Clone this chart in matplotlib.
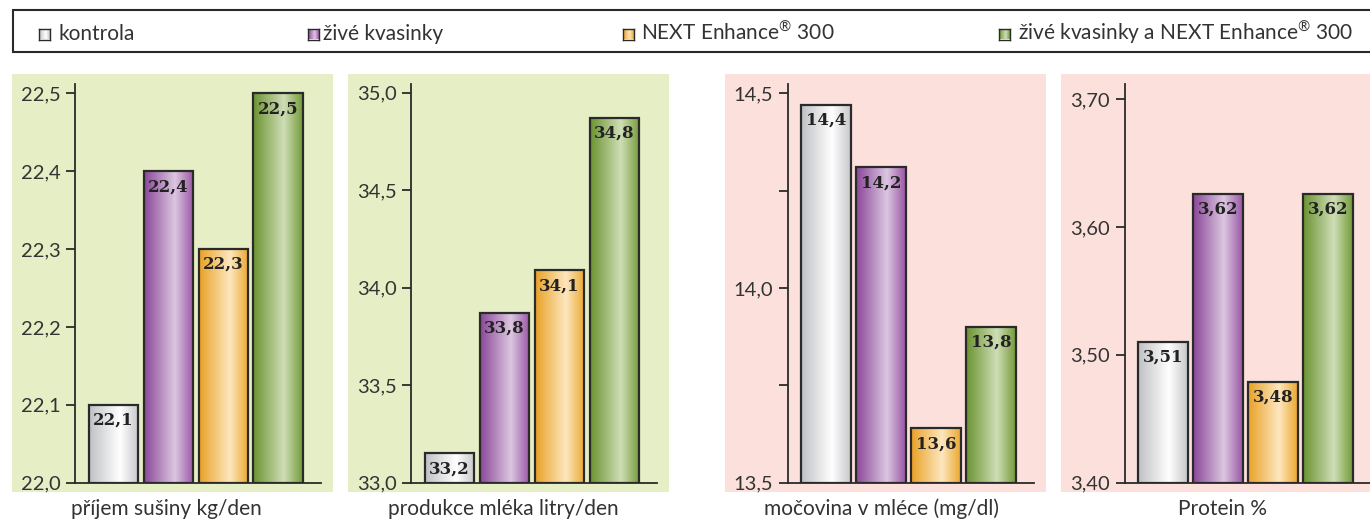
import numpy as np
import matplotlib
matplotlib.use("Agg")
import matplotlib.pyplot as plt
from matplotlib.colors import LinearSegmentedColormap
from matplotlib.patches import Rectangle

# ---------------- data ----------------
series = ["kontrola", "živé kvasinky", "NEXT Enhance$^{\\mathrm{®}}$ 300",
          "živé kvasinky a NEXT Enhance$^{\\mathrm{®}}$ 300"]

titles = ["příjem sušiny kg/den", "produkce mléka litry/den",
          "močovina v mléce (mg/dl)", "Protein %"]

susina = [22.1, 22.4, 22.3, 22.5]
mleko = [33.15, 33.87, 34.09, 34.87]
mocovina = [14.47, 14.31, 13.64, 13.90]
protein = [3.51, 3.626, 3.479, 3.626]

susina_lbl = ["22,1", "22,4", "22,3", "22,5"]
mleko_lbl = ["33,2", "33,8", "34,1", "34,8"]
mocovina_lbl = ["14,4", "14,2", "13,6", "13,8"]
protein_lbl = ["3,51", "3,62", "3,48", "3,62"]

susina_ticks = [22.0, 22.1, 22.2, 22.3, 22.4, 22.5]
mleko_ticks = [33.0, 33.5, 34.0, 34.5, 35.0]
mocovina_ticks = [13.5, 13.75, 14.0, 14.25, 14.5]
protein_ticks = [3.40, 3.50, 3.60, 3.70]

susina_tlbl = ["22,0", "22,1", "22,2", "22,3", "22,4", "22,5"]
mleko_tlbl = ["33,0", "33,5", "34,0", "34,5", "35,0"]
mocovina_tlbl = ["13,5", "", "14,0", "", "14,5"]
protein_tlbl = ["3,40", "3,50", "3,60", "3,70"]

# ---------------- style ----------------
plt.rcParams["font.family"] = ["Lato", "DejaVu Sans"]
plt.rcParams["mathtext.fontset"] = "custom"
plt.rcParams["mathtext.rm"] = "Lato"

W, H = 1370, 521
fig = plt.figure(figsize=(W / 100, H / 100), dpi=100)

grad_stops = [
    [(0, "#bfc0c4"), (0.62, "#ffffff"), (1, "#c6c7ca")],
    [(0, "#8a4698"), (0.62, "#dcc7e1"), (1, "#9855a5")],
    [(0, "#e9a126"), (0.62, "#fde7bf"), (1, "#eba72e")],
    [(0, "#6a9330"), (0.62, "#cfdeb6"), (1, "#739a38")],
]
cmaps = [LinearSegmentedColormap.from_list("g%d" % i, s) for i, s in enumerate(grad_stops)]
grad = np.linspace(0, 1, 256).reshape(1, -1)

green_bg = "#e6eec6"
pink_bg = "#fce0dc"
dark = "#2a2a2a"
txt = "#333333"

def fx(px):
    return px / W

def fy(py):
    return 1 - py / H

# panel backgrounds
bgs = [(12, 333, green_bg), (348, 669, green_bg), (725, 1046, pink_bg), (1061, 1372, pink_bg)]
for x0, x1, c in bgs:
    fig.patches.append(Rectangle((fx(x0), fy(491.7)), fx(x1 - x0), (491.7 - 74) / H,
                                 transform=fig.transFigure, facecolor=c, edgecolor="none", zorder=-5))

# legend frame
fig.patches.append(Rectangle((fx(12.7), fy(52)), fx(1380 - 12.7), (52 - 10) / H,
                             transform=fig.transFigure, facecolor="white", edgecolor=dark,
                             linewidth=1.5, zorder=-5))

leg_marker_x = [39.3, 308.3, 623.3, 999.3]
leg_text_x = [59, 323, 641, 1018]
for i in range(4):
    lax = fig.add_axes([fx(leg_marker_x[i]), fy(39.5), fx(11), 11 / H])
    lax.imshow(grad, cmap=cmaps[i], aspect="auto", extent=[0, 1, 0, 1])
    lax.set_xticks([]); lax.set_yticks([])
    for s in lax.spines.values():
        s.set_linewidth(1.0); s.set_color(dark)
    fig.text(fx(leg_text_x[i]), fy(39.5), series[i], fontsize=15, color=txt,
             ha="left", va="baseline")

values = [susina, mleko, mocovina, protein]
labels = [susina_lbl, mleko_lbl, mocovina_lbl, protein_lbl]
ticks = [susina_ticks, mleko_ticks, mocovina_ticks, protein_ticks]
tlbls = [susina_tlbl, mleko_tlbl, mocovina_tlbl, protein_tlbl]
ylims = [(22.0, 22.512), (33.0, 35.045), (13.5, 14.524), (3.40, 3.7117)]
ax_left = [75, 411.3, 787.7, 1124.7]
title_x = [166, 503, 882, 1222]

x = np.arange(4)
for p in range(4):
    ax = fig.add_axes([fx(ax_left[p]), fy(482.7), fx(246), (482.7 - 84) / H])
    ax.patch.set_alpha(0)
    lo, hi = ylims[p]
    bars = ax.bar(x, np.array(values[p]) - lo, bottom=lo, width=0.9,
                  facecolor="none", edgecolor=dark, linewidth=1.6, zorder=3)
    for i, b in enumerate(bars):
        bx, by, bw, bh = b.get_x(), b.get_y(), b.get_width(), b.get_height()
        ax.imshow(grad, cmap=cmaps[i], aspect="auto", extent=[bx, bx + bw, by, by + bh],
                  zorder=2, interpolation="bilinear")
        ax.annotate(labels[p][i], xy=(bx + bw / 2, by + bh), xytext=(0, -5),
                    textcoords="offset points", ha="center", va="top",
                    fontsize=12, fontweight="bold", family="DejaVu Serif",
                    color="#222222", zorder=4)
    ax.set_xlim(-0.7, 3.78)
    ax.set_ylim(lo, hi)
    ax.set_yticks(ticks[p])
    ax.set_yticklabels(tlbls[p])
    ax.set_xticks([])
    for s in ["top", "right"]:
        ax.spines[s].set_visible(False)
    for s in ["left", "bottom"]:
        ax.spines[s].set_linewidth(1.3)
        ax.spines[s].set_color(dark)
    ax.tick_params(axis="y", direction="out", length=6.5, width=1.3, color=dark,
                   labelsize=14.5, labelcolor=txt, pad=4)
    fig.text(fx(title_x[p]), fy(509), titles[p], fontsize=15, color=txt,
             ha="center", va="center")

fig.savefig("out.png", dpi=100)
